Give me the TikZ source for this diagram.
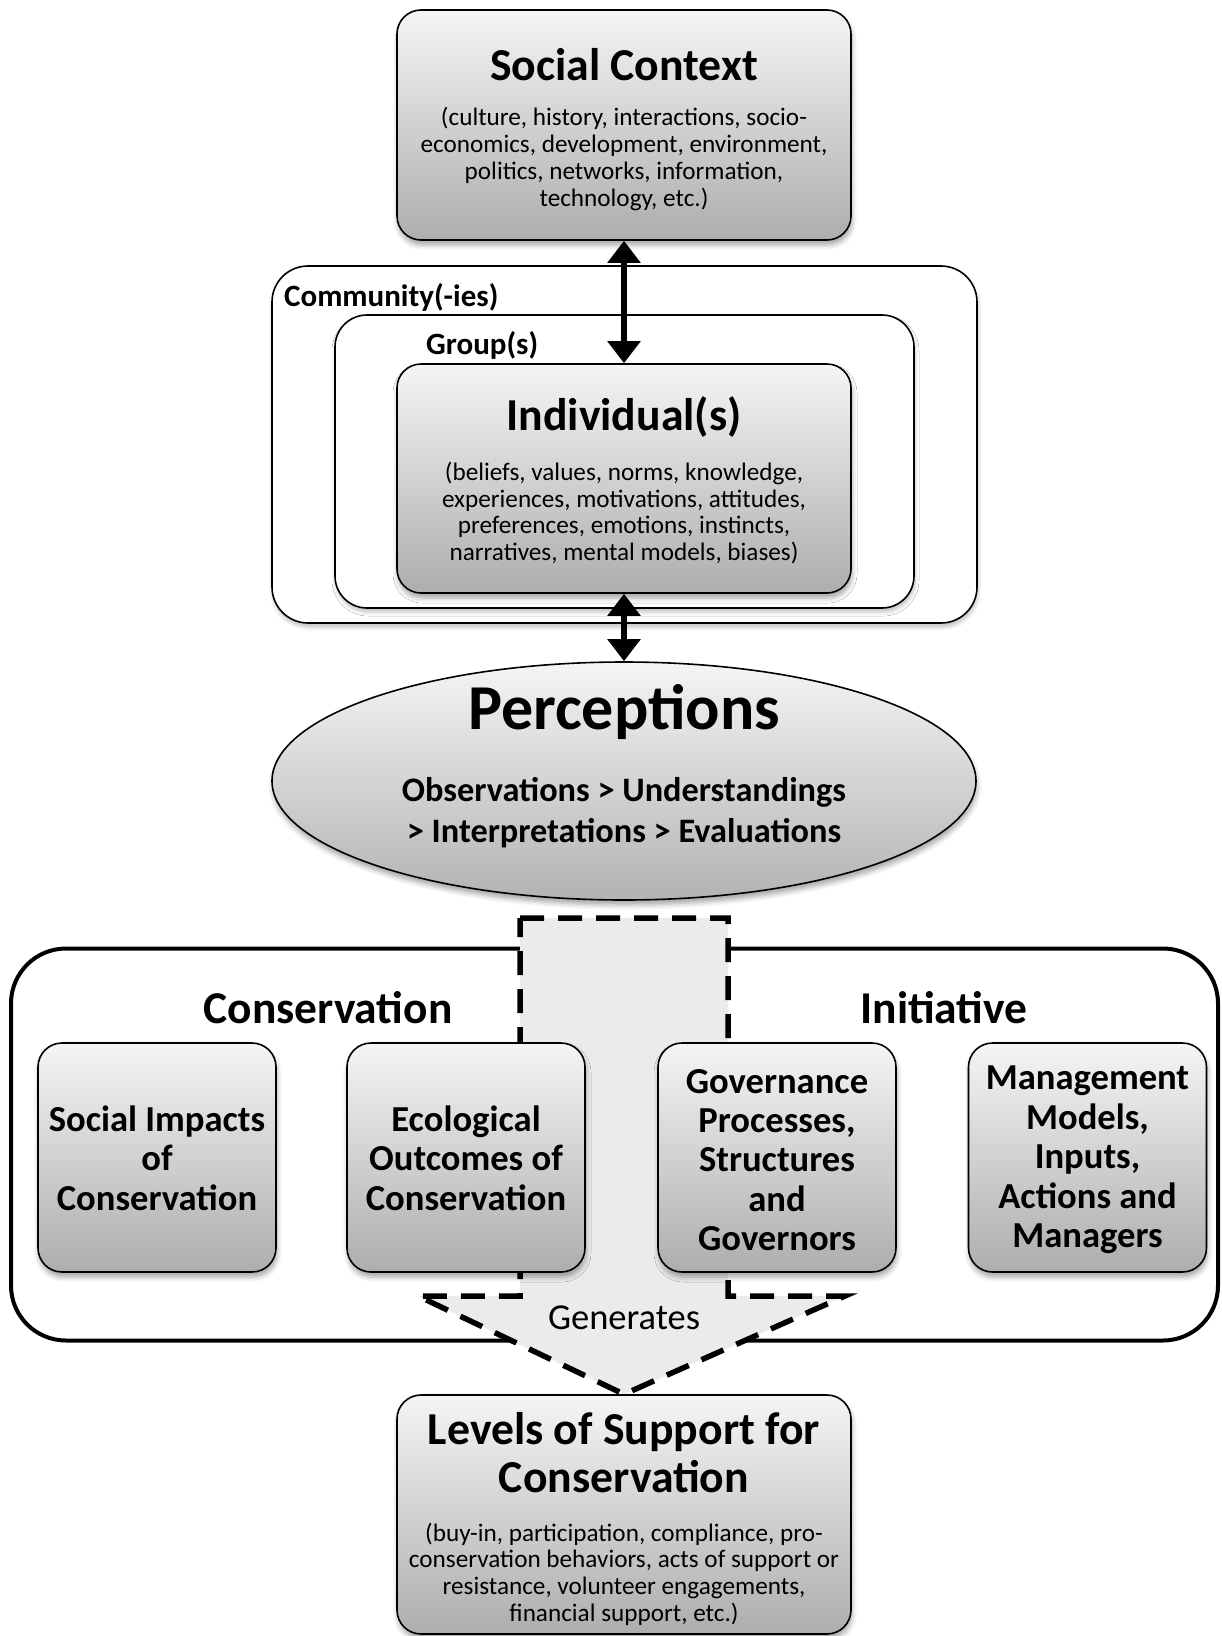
\documentclass[tikz,border=0pt]{standalone}
\usepackage{fontspec}
\setmainfont{Carlito}
\usetikzlibrary{shadows.blur,arrows.meta,shapes.geometric}
\tikzset{
  gbox/.style={draw=black, line width=1.6pt, rounded corners=24pt, top color=black!4, bottom color=black!32,
    blur shadow={shadow xshift=1pt, shadow yshift=-5pt, shadow opacity=35, shadow blur radius=5pt},
    inner sep=0pt},
  frame/.style={draw=black, line width=1.6pt, fill=white, inner sep=0pt,
    blur shadow={shadow xshift=1pt, shadow yshift=-4pt, shadow opacity=25, shadow blur radius=4pt}},
  dbl/.style={line width=6pt, {Triangle[width=32pt,length=22pt]}-{Triangle[width=32pt,length=22pt]}},
  ttl/.style={font=\bfseries\fontsize{45.7}{48}\selectfont, align=center, inner sep=0pt},
  subt/.style={font=\fontsize{25.2}{26.7}\selectfont, align=center, inner sep=0pt},
  lbl/.style={font=\bfseries\fontsize{31}{34}\selectfont, inner sep=0pt, anchor=west},
  boxt/.style={font=\bfseries\fontsize{36.6}{39.4}\selectfont, align=center, inner sep=0pt},
  hdr/.style={font=\bfseries\fontsize{45.5}{50}\selectfont, inner sep=0pt},
}
\begin{document}
\begin{tikzpicture}[x=1pt,y=-1pt]
\useasboundingbox (0,0) rectangle (1221,1636);
% Social context
\node[gbox, minimum width=454pt, minimum height=230pt] (sc) at (624,125) {};
\node[ttl] (sct) at (624,65) {Social Context};
\node[subt] (scs) at (624,159) {(culture, history, interactions, socio-\\economics, development, environment,\\politics, networks, information,\\technology, etc.)};
% nested frames
\node[frame, rounded corners=36pt, minimum width=705pt, minimum height=357pt] (com) at (624.5,444.5) {};
\node[frame, rounded corners=32pt, minimum width=579pt, minimum height=293pt] (grp) at (624.5,461.5) {};
\node[lbl] (comt) at (284,297) {Community(-ies)};
\node[lbl] (grpt) at (426,345) {Group(s)};
\node[gbox, minimum width=454pt, minimum height=229pt] (ind) at (624,478.5) {};
\node[ttl] (indt) at (624,417) {Individual(s)};
\node[subt] (inds) at (624,513) {(beliefs, values, norms, knowledge,\\experiences, motivations, attitudes,\\preferences, emotions, instincts,\\narratives, mental models, biases)};
% perceptions
\node[ellipse, draw=black, line width=1.6pt, top color=black!4, bottom color=black!30, minimum width=704pt, minimum height=238pt, inner sep=0pt,
  blur shadow={shadow xshift=1pt, shadow yshift=-5pt, shadow opacity=35, shadow blur radius=5pt}] (perc) at (624,781) {};
\node[font=\bfseries\fontsize{64}{70}\selectfont, inner sep=0pt] (perct) at (624,712) {Perceptions};
\node[font=\bfseries\fontsize{34.3}{41}\selectfont, align=center, inner sep=0pt] (percs) at (624,812.5) {Observations > Understandings\\> Interpretations > Evaluations};
% arrows
\draw[dbl] (sc.south) -- (ind.north);
\draw[dbl] (ind.south) -- (perc.north);
% conservation initiative
\node[draw=black, line width=4pt, rounded corners=55pt, minimum width=1207pt, minimum height=392pt, inner sep=0pt] (ci) at (614.5,1144.5) {};
\node[hdr] (cit1) at (328,1008) {Conservation};
\node[hdr] (cit2) at (944,1008) {Initiative};
% levels box (needed for arrow tip)
\node[gbox, minimum width=454pt, minimum height=239pt] (lev) at (624,1514.5) {};
% big dashed arrow
\coordinate (tip) at (lev.north);
\draw[line width=5.5pt, dash pattern=on 24pt off 14pt, fill=black!8]
  (520,918) -- (728,918) -- (728,1296) -- (845,1296) -- (tip) -- (418,1296) -- (520,1296) -- cycle;
\node[font=\fontsize{36.5}{40}\selectfont, inner sep=0pt] (gen) at (624,1318) {Generates};
% small boxes
\node[gbox, minimum width=238pt, minimum height=229pt] (b1) at (157,1157.5) {};
\node[gbox, minimum width=238pt, minimum height=229pt] (b2) at (466,1157.5) {};
\node[gbox, minimum width=238pt, minimum height=229pt] (b3) at (777,1157.5) {};
\node[gbox, minimum width=238pt, minimum height=229pt] (b4) at (1087.5,1157.5) {};
\node[boxt] (b1t) at (157,1158) {Social Impacts\\of\\Conservation};
\node[boxt] (b2t) at (466,1158) {Ecological\\Outcomes of\\Conservation};
\node[boxt] (b3t) at (777,1160) {Governance\\Processes,\\Structures\\and\\Governors};
\node[boxt] (b4t) at (1087.5,1160) {Management\\Models,\\Inputs,\\Actions and\\Managers};
% levels text
\node[ttl] (levt) at (624,1453) {Levels of Support for\\Conservation};
\node[subt] (levs) at (624,1574) {(buy-in, participation, compliance, pro-\\conservation behaviors, acts of support or\\resistance, volunteer engagements,\\financial support, etc.)};
\end{tikzpicture}
\end{document}
